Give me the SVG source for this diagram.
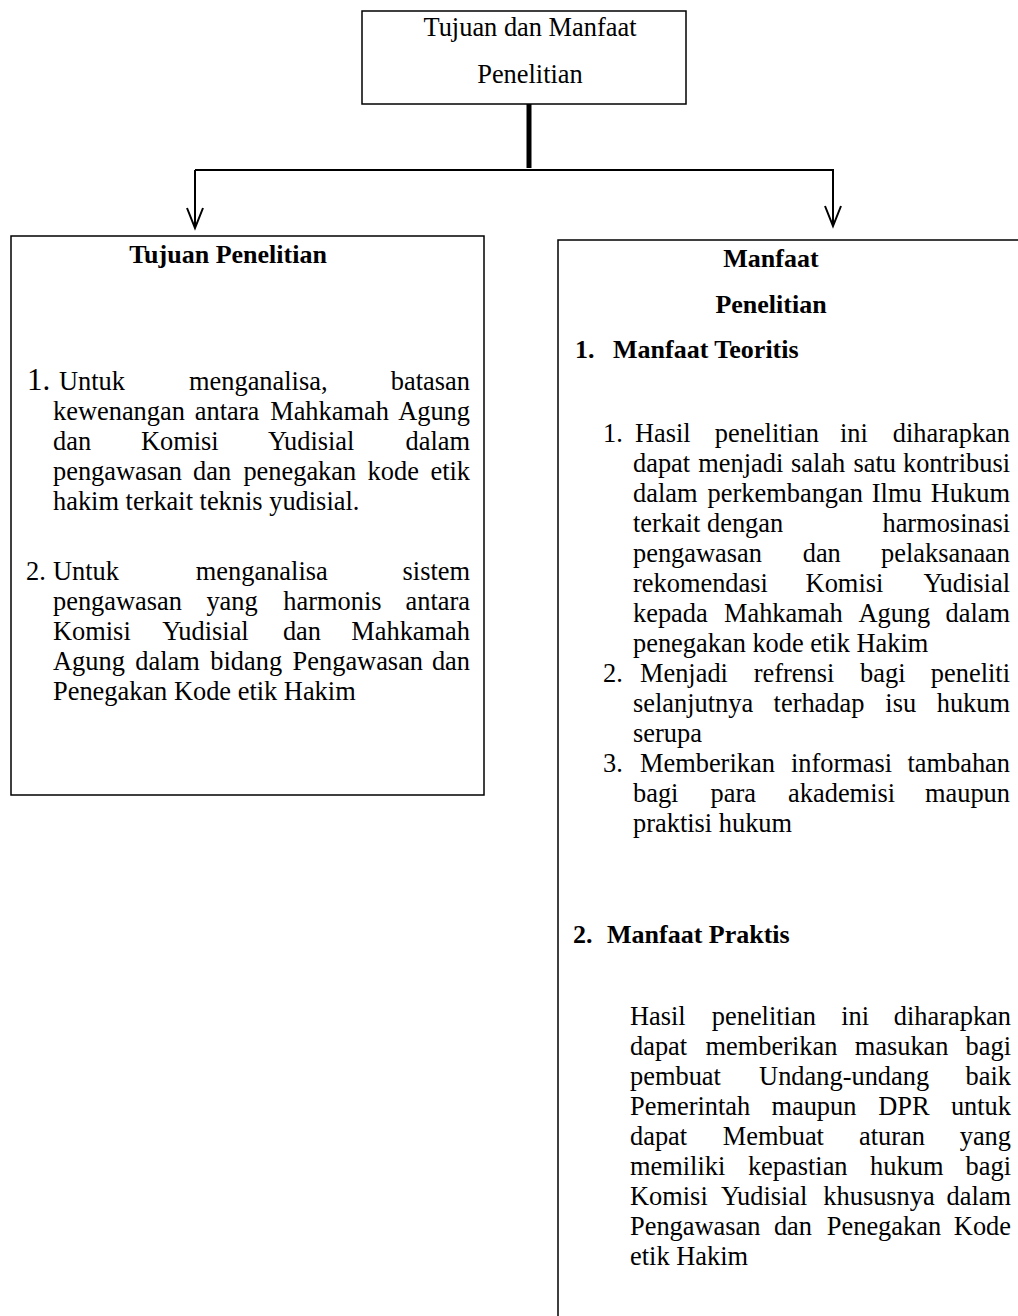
<svg xmlns="http://www.w3.org/2000/svg" width="1018" height="1316" viewBox="0 0 1018 1316">
<style>
.t{font-family:"Liberation Serif","Times New Roman",serif;font-size:26.4px;fill:#000}
.b{font-weight:bold;font-size:26px}
.e{text-anchor:end}
.c{text-anchor:middle}
.box{fill:#fff;stroke:#000;stroke-width:1.5}
.ln{fill:none;stroke:#000;stroke-width:2}
</style>
<rect width="1018" height="1316" fill="#fff"/>
<g id="connectors">
<line x1="529" y1="104" x2="529" y2="168" stroke="#000" stroke-width="5"/>
<line x1="195" y1="170" x2="834" y2="170" class="ln" stroke-width="2.5"/>
<line x1="195" y1="170" x2="195" y2="227" class="ln"/>
<polyline points="187,208 195,228 203,208" class="ln"/>
<line x1="833" y1="170" x2="833" y2="225" class="ln"/>
<polyline points="825,206 833,226 841,206" class="ln"/>
</g>
<g id="root">
<rect x="362" y="11" width="324" height="93" class="box"/>
<text class="t c" x="530" y="36">Tujuan dan Manfaat</text>
<text class="t c" x="530" y="83">Penelitian</text>
</g>
<g id="tujuan">
<rect x="11" y="236" width="473" height="559" class="box"/>
<text class="t b c" x="228" y="263">Tujuan Penelitian</text>
<text class="t" y="390"><tspan x="27" font-size="31">1.</tspan><tspan x="59">Untuk</tspan><tspan x="189">menganalisa,</tspan></text>
<text class="t e" x="470" y="390">batasan</text>
<text class="t" y="420"><tspan x="53">kewenangan</tspan><tspan x="194.8">antara</tspan><tspan x="270.2">Mahkamah</tspan></text>
<text class="t e" x="470" y="420">Agung</text>
<text class="t" y="450"><tspan x="53">dan</tspan><tspan x="140.9">Komisi</tspan><tspan x="267.9">Yudisial</tspan></text>
<text class="t e" x="470" y="450">dalam</text>
<text class="t" y="480"><tspan x="53">pengawasan</tspan><tspan x="193">dan</tspan><tspan x="243.4">penegakan</tspan><tspan x="367.6">kode</tspan></text>
<text class="t e" x="470" y="480">etik</text>
<text class="t" x="53" y="510">hakim terkait teknis yudisial.</text>
<text class="t" y="580"><tspan x="26">2.</tspan><tspan x="53">Untuk</tspan><tspan x="195.8">menganalisa</tspan></text>
<text class="t e" x="470" y="580">sistem</text>
<text class="t" y="610"><tspan x="53">pengawasan</tspan><tspan x="206.4">yang</tspan><tspan x="283.3">harmonis</tspan></text>
<text class="t e" x="470" y="610">antara</text>
<text class="t" y="640"><tspan x="53">Komisi</tspan><tspan x="162.2">Yudisial</tspan><tspan x="282.9">dan</tspan></text>
<text class="t e" x="470" y="640">Mahkamah</text>
<text class="t" y="670"><tspan x="53">Agung</tspan><tspan x="135.3">dalam</tspan><tspan x="210.3">bidang</tspan><tspan x="292.6">Pengawasan</tspan></text>
<text class="t e" x="470" y="670">dan</text>
<text class="t" x="53" y="700">Penegakan Kode etik Hakim</text>
</g>
<g id="manfaat">
<rect x="558" y="240" width="520" height="1100" class="box"/>
<text class="t b c" x="771" y="267">Manfaat</text>
<text class="t b c" x="771" y="313">Penelitian</text>
<text class="t b" y="358"><tspan x="575">1.</tspan><tspan x="613">Manfaat Teoritis</tspan></text>
<text class="t" y="442"><tspan x="603">1.</tspan><tspan x="635">Hasil</tspan><tspan x="714.8">penelitian</tspan><tspan x="840">ini</tspan></text>
<text class="t e" x="1010" y="442">diharapkan</text>
<text class="t" y="472"><tspan x="633">dapat</tspan><tspan x="698.3">menjadi</tspan><tspan x="791.1">salah</tspan><tspan x="853.5">satu</tspan></text>
<text class="t e" x="1010" y="472">kontribusi</text>
<text class="t" y="502"><tspan x="633">dalam</tspan><tspan x="707.6">perkembangan</tspan><tspan x="871.8">Ilmu</tspan></text>
<text class="t e" x="1010" y="502">Hukum</text>
<text class="t" x="633" y="532">terkait dengan</text>
<text class="t e" x="1010" y="532">harmosinasi</text>
<text class="t" y="562"><tspan x="633">pengawasan</tspan><tspan x="802.7">dan</tspan></text>
<text class="t e" x="1010" y="562">pelaksanaan</text>
<text class="t" y="592"><tspan x="633">rekomendasi</tspan><tspan x="805.6">Komisi</tspan></text>
<text class="t e" x="1010" y="592">Yudisial</text>
<text class="t" y="622"><tspan x="633">kepada</tspan><tspan x="724">Mahkamah</tspan><tspan x="858.4">Agung</tspan></text>
<text class="t e" x="1010" y="622">dalam</text>
<text class="t" x="633" y="652">penegakan kode etik Hakim</text>
<text class="t" y="682"><tspan x="603">2.</tspan><tspan x="640">Menjadi</tspan><tspan x="753.7">refrensi</tspan><tspan x="860.1">bagi</tspan></text>
<text class="t e" x="1010" y="682">peneliti</text>
<text class="t" y="712"><tspan x="633">selanjutnya</tspan><tspan x="773.6">terhadap</tspan><tspan x="885.3">isu</tspan></text>
<text class="t e" x="1010" y="712">hukum</text>
<text class="t" x="633" y="742">serupa</text>
<text class="t" y="772"><tspan x="603">3.</tspan><tspan x="640">Memberikan</tspan><tspan x="791">informasi</tspan></text>
<text class="t e" x="1010" y="772">tambahan</text>
<text class="t" y="802"><tspan x="633">bagi</tspan><tspan x="710.6">para</tspan><tspan x="788.1">akademisi</tspan></text>
<text class="t e" x="1010" y="802">maupun</text>
<text class="t" x="633" y="832">praktisi hukum</text>
<text class="t b" y="943"><tspan x="573">2.</tspan><tspan x="607">Manfaat Praktis</tspan></text>
<text class="t" y="1025"><tspan x="630">Hasil</tspan><tspan x="711.8">penelitian</tspan><tspan x="841.2">ini</tspan></text>
<text class="t e" x="1011" y="1025">diharapkan</text>
<text class="t" y="1055"><tspan x="630">dapat</tspan><tspan x="705.5">memberikan</tspan><tspan x="854.7">masukan</tspan></text>
<text class="t e" x="1011" y="1055">bagi</text>
<text class="t" y="1085"><tspan x="630">pembuat</tspan><tspan x="759.1">Undang-undang</tspan></text>
<text class="t e" x="1011" y="1085">baik</text>
<text class="t" y="1115"><tspan x="630">Pemerintah</tspan><tspan x="771.4">maupun</tspan><tspan x="878.2">DPR</tspan></text>
<text class="t e" x="1011" y="1115">untuk</text>
<text class="t" y="1145"><tspan x="630">dapat</tspan><tspan x="722.8">Membuat</tspan><tspan x="859">aturan</tspan></text>
<text class="t e" x="1011" y="1145">yang</text>
<text class="t" y="1175"><tspan x="630">memiliki</tspan><tspan x="747.9">kepastian</tspan><tspan x="870.1">hukum</tspan></text>
<text class="t e" x="1011" y="1175">bagi</text>
<text class="t" y="1205"><tspan x="630">Komisi</tspan><tspan x="720.9">Yudisial</tspan><tspan x="823.3">khususnya</tspan></text>
<text class="t e" x="1011" y="1205">dalam</text>
<text class="t" y="1235"><tspan x="630">Pengawasan</tspan><tspan x="773.9">dan</tspan><tspan x="826.8">Penegakan</tspan></text>
<text class="t e" x="1011" y="1235">Kode</text>
<text class="t" x="630" y="1265">etik Hakim</text>
</g>
</svg>
